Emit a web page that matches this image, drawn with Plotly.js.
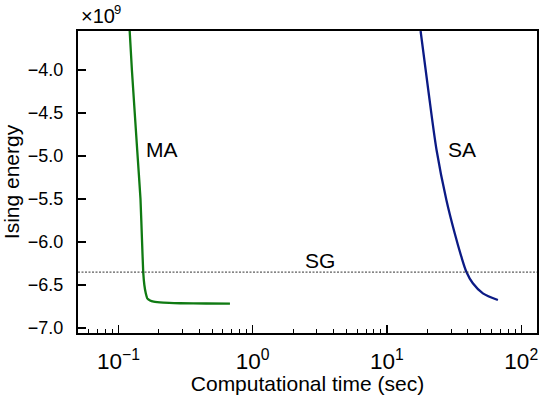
<!DOCTYPE html>
<html><head><meta charset="utf-8">
<script src="https://cdn.plot.ly/plotly-3.0.1.min.js"></script>
<style>html,body{margin:0;padding:0;background:#fff}#chart{width:540px;height:395px}</style>
</head><body><div id="chart"></div>
<script>
// Values in units of 1e9
const maTime = [0.1213, 0.126, 0.138, 0.146, 0.150, 0.153, 0.156, 0.160, 0.164, 0.172, 0.183, 0.216, 0.288, 0.45, 0.677];
const maEnergy = [-3.547, -4.0, -4.93, -5.5, -6.0, -6.35, -6.5, -6.6, -6.655, -6.68, -6.694, -6.706, -6.712, -6.715, -6.716];
const saTime = [17.8, 20.3, 23.4, 27.7, 31.95, 35.8, 39.0, 43.6, 51.8, 67.0];
const saEnergy = [-3.547, -4.233, -4.93, -5.512, -5.899, -6.171, -6.345, -6.48, -6.597, -6.674];
const sgEnergy = -6.35;
const xRange = [0.05, 131];
const labels = [
  {text: 'MA', x: 0.212, y: -4.93},
  {text: 'SA', x: 36, y: -4.93},
  {text: 'SG', x: 3.18, y: -6.21}
];
const font = 'Liberation Sans, Arial, sans-serif';

const traces = [
  {x: maTime, y: maEnergy, mode: 'lines', line: {color: '#0f7a12', width: 2.3, shape: 'spline', smoothing: 0.3}, hoverinfo: 'skip'},
  {x: saTime, y: saEnergy, mode: 'lines', line: {color: '#0b1a85', width: 2.3, shape: 'spline', smoothing: 0.8}, hoverinfo: 'skip'},
  {x: xRange, y: [sgEnergy, sgEnergy], mode: 'lines', line: {color: '#333', width: 1, dash: '2px,1.5px'}, hoverinfo: 'skip'}
];

const annotations = labels.map(l => ({
  text: l.text, x: Math.log10(l.x), y: l.y, xref: 'x', yref: 'y', showarrow: false,
  font: {family: font, size: 21, color: '#000'}
}));
annotations.push({text: '×10', xref: 'paper', yref: 'paper', x: 0.003, y: 1.0, xanchor: 'left', yanchor: 'bottom',
  yshift: 2, showarrow: false, font: {family: font, size: 20, color: '#000'}});
annotations.push({text: '9', xref: 'paper', yref: 'paper', x: 0.003, y: 1.0, xanchor: 'left', yanchor: 'bottom',
  xshift: 33, yshift: 12, showarrow: false, font: {family: font, size: 13, color: '#000'}});

const layout = {
  width: 540, height: 395,
  margin: {l: 78, r: 3, t: 31, b: 62},
  paper_bgcolor: '#fff', plot_bgcolor: '#fff',
  showlegend: false,
  font: {family: font, size: 18, color: '#000'},
  xaxis: {
    type: 'log', range: [Math.log10(xRange[0]), Math.log10(xRange[1])],
    dtick: 1, exponentformat: 'power', showexponent: 'all',
    labelalias: {'1': '10<sup>0</sup>', '10': '10<sup>1</sup>'},
    ticks: 'inside', ticklen: 8, tickwidth: 1.5, tickcolor: '#000',
    minor: {ticks: 'inside', ticklen: 4, tickwidth: 1, tickcolor: '#000', showgrid: false},
    showline: true, linewidth: 2, linecolor: '#000', mirror: true,
    showgrid: false, zeroline: false,
    tickfont: {family: font, size: 18},
    ticklabelstandoff: 8,
    title: {text: 'Computational time (sec)', font: {family: font, size: 21}, standoff: 4}
  },
  yaxis: {
    range: [-7.058, -3.547],
    tickvals: [-7.0, -6.5, -6.0, -5.5, -5.0, -4.5, -4.0],
    tickformat: '.1f',
    ticks: 'inside', ticklen: 8, tickwidth: 1.5, tickcolor: '#000',
    showline: true, linewidth: 2, linecolor: '#000', mirror: true,
    showgrid: false, zeroline: false,
    tickfont: {family: font, size: 18},
    ticklabelstandoff: 9,
    title: {text: 'Ising energy', font: {family: font, size: 21}, standoff: 6}
  },
  annotations: annotations
};
Plotly.newPlot('chart', traces, layout, {staticPlot: true, displayModeBar: false});
</script></body></html>
